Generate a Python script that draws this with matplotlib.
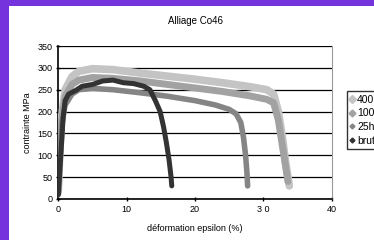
import matplotlib
matplotlib.use("Agg")
import matplotlib.pyplot as plt
from matplotlib.lines import Line2D
from matplotlib.patches import Rectangle

plt.rcParams['font.family'] = ['Liberation Sans', 'DejaVu Sans']

# curves (strain %, stress MPa)
x_400 = [0, 0.2, 0.5, 1.0, 2, 3, 5, 8, 12, 16, 20, 24, 28, 30.5, 31.5, 32.2, 32.8, 33.3, 33.8]
y_400 = [20, 100, 190, 250, 280, 292, 298, 296, 288, 281, 274, 266, 257, 250, 240, 200, 140, 80, 30]

x_100 = [0, 0.2, 0.5, 1.0, 2, 3, 5, 8, 12, 16, 20, 24, 28, 30.5, 31.5, 32.2, 32.7, 33.2, 33.6]
y_100 = [15, 90, 180, 235, 262, 272, 278, 276, 270, 262, 254, 246, 236, 228, 220, 180, 130, 80, 40]

x_25 = [0, 0.2, 0.5, 1.0, 2, 3, 5, 8, 12, 16, 20, 23, 25, 26, 26.7, 27.1, 27.4, 27.6, 27.7]
y_25 = [10, 80, 170, 215, 240, 250, 253, 250, 243, 235, 225, 215, 205, 195, 175, 140, 100, 60, 30]

x_brut = [0, 0.2, 0.4, 0.7, 1.0, 1.5, 2.5, 3.5, 5, 6.5, 8, 9.5, 11, 12.5, 13.4, 14.2, 14.9, 15.4, 15.8, 16.2, 16.5, 16.6]
y_brut = [10, 60, 110, 185, 225, 240, 248, 258, 262, 270, 272, 266, 264, 258, 250, 225, 200, 165, 130, 90, 50, 30]

labels = ['400h', '100h', '25h', 'brut']
colors = ['#c4c4c4', '#a2a2a2', '#858585', '#333333']

fig = plt.figure(figsize=(3.74, 2.40), dpi=100, facecolor='#7433dd')
# white chart area, purple frame left and top
fig.patches.append(Rectangle((9 / 374, 0), 1, 1 - 6 / 240, transform=fig.transFigure,
                             facecolor='white', edgecolor='none', zorder=-5))

ax = fig.add_axes([58.3 / 374, 41 / 240, (331.7 - 58.3) / 374, 153 / 240])
ax.set_facecolor('white')

series = [(x_400, y_400, 5.5), (x_100, y_100, 5), (x_25, y_25, 4), (x_brut, y_brut, 3.6)]
for (xs, ys, lw), c in zip(series, colors):
    ax.plot(xs, ys, color=c, lw=lw, solid_capstyle='round', solid_joinstyle='round', zorder=3)

ax.set_xlim(0, 40)
ax.set_ylim(0, 350)
ax.set_xticks(range(0, 41, 10))
ax.set_yticks(range(0, 351, 50))
ax.set_xticklabels(['0', '10', '20', '3 0', '40'])
ax.yaxis.grid(True, color='black', lw=0.9)
ax.set_axisbelow(True)
ax.spines['top'].set_visible(False)
ax.spines['right'].set_color('#999999')
ax.spines['left'].set_linewidth(1.2)
ax.spines['bottom'].set_linewidth(1.2)
ax.tick_params(labelsize=6.5, length=2.5, width=1, direction='inout', pad=3)

ax.set_title('Alliage Co46', fontsize=7, pad=16)
ax.set_xlabel('déformation epsilon (%)', fontsize=6.5, labelpad=7)
ax.set_ylabel('contrainte MPa', fontsize=6.5, labelpad=4)

handles = [Line2D([], [], ls='none', marker='D', ms=ms, color=c, label=l)
           for c, l, ms in zip(colors, labels, [4, 3.5, 2.5, 2.5])]
fig.legend(handles=handles, loc='upper left', bbox_to_anchor=(346.7 / 374, 1 - 91 / 240),
           fontsize=7.5, frameon=True, fancybox=False, edgecolor='black',
           handlelength=0.4, handletextpad=0.25, borderpad=0.35, labelspacing=0.35,
           borderaxespad=0)

fig.savefig('out.png', dpi=100, facecolor=fig.get_facecolor())
